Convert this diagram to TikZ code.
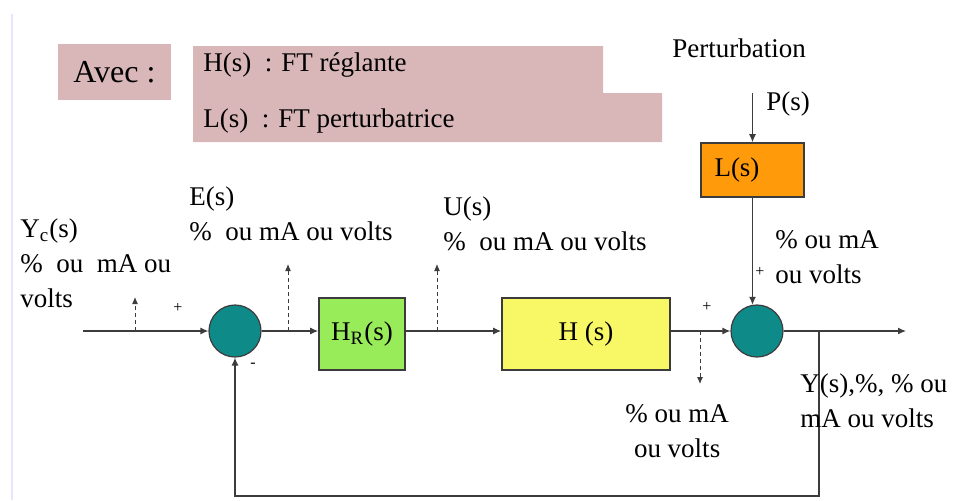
\documentclass[tikz,border=0pt]{standalone}
\usepackage{fontspec}
\setmainfont{Liberation Serif}
\usetikzlibrary{arrows.meta,positioning}
\definecolor{ink}{HTML}{3C3C3C}
\definecolor{rose}{HTML}{D9B6B8}
\definecolor{sumfill}{HTML}{0E8A89}
\definecolor{regfill}{HTML}{98EC5A}
\definecolor{procfill}{HTML}{F8F866}
\definecolor{pertfill}{HTML}{FF9A0A}

\begin{document}
\begin{tikzpicture}[x=0.5pt,y=-0.5pt,>=Latex,
  every node/.style={font=\fontsize{13.5}{17.5}\selectfont},
  blk/.style={draw=ink,line width=0.8pt,minimum height=36pt,inner sep=0pt},
  sum/.style={circle,draw=ink,line width=0.6pt,fill=sumfill,minimum size=26pt,inner sep=0pt},
  lbl/.style={align=left,inner sep=0pt,anchor=base west},
  sig/.style={->,ink,line width=0.6pt,>={Latex[length=4pt,width=3.5pt]}},
  probe/.style={->,ink,line width=0.5pt,dash pattern=on 2pt off 1.5pt,>={Latex[length=3.5pt,width=3pt]}},
  sgn/.style={font=\fontsize{8}{8}\selectfont,inner sep=0pt}]
  \useasboundingbox (0,0) rectangle (955,500);
  \draw[blue!10,line width=0.8pt] (12,14) -- (12,500);

  % legend
  \node[fill=rose,minimum width=56.5pt,minimum height=28pt,inner sep=0pt,
    font=\fontsize{16}{18}\selectfont] (avec) at (114.5,72) {Avec :};
  \fill[rose] (193,46) -- (603,46) -- (603,93) -- (662,93) -- (662,142) -- (193,142) -- cycle;
  \node[lbl] (hdef) at (203,71) {H(s)\ \ : FT réglante};
  \node[lbl] (ldef) at (203,127) {L(s)\ \ : FT perturbatrice};

  % blocks
  \node[sum] (sum1) at (235,331) {};
  \node[blk,fill=regfill,minimum width=43pt] (HR) at (362,334) {H\textsubscript{R}(s)};
  \node[blk,fill=procfill,minimum width=84pt] (H) at (586,334) {H (s)};
  \node[sum] (sum2) at (757,331) {};
  \node[blk,fill=pertfill,minimum width=51.5pt,minimum height=27pt] (L) at (752.5,170)
    {\makebox[38pt][l]{L(s)}};

  \coordinate (yin) at (83,331);
  \coordinate (pin) at (752.5,93);
  \coordinate (fb) at (819,331);
  \coordinate (yout) at (906,331);

  \draw[sig] (yin) -- (sum1.west);
  \draw[sig] (sum1.east) -- (sum1.east -| HR.west);
  \draw[sig] (HR.east |- sum1) -- (H.west |- sum1);
  \draw[sig] (H.east |- sum2) -- (sum2.west);
  \draw[sig] (sum2.east) -- (yout);
  \draw[sig] (pin) -- (L.north);
  \draw[sig] (L.south) -- (L.south |- sum2.100);
  \draw[sig] (fb) -- ++(0,165) -| (sum1.south);

  % measurement taps
  \coordinate (tapY) at (135,331);
  \coordinate (tapE) at (288,331);
  \coordinate (tapU) at (437,331);
  \coordinate (tapP) at (700,331);
  \draw[probe] (tapY) -- ++(0,-34);
  \draw[probe] (tapE) -- ++(0,-67);
  \draw[probe] (tapU) -- ++(0,-67);
  \draw[probe] (tapP) -- ++(0,53);

  % signs
  \node[sgn] (s1) at (178,308) {+};
  \node[sgn] (s2) at (253,365) {-};
  \node[sgn] (s3) at (707,307) {+};
  \node[sgn] (s4) at (760,272) {+};

  % signal labels
  \node[lbl] (yc) at (20,307) {Y\textsubscript{c}(s)\\\%\ \ ou\ \ mA ou\\volts};
  \node[lbl] (es) at (189,240) {E(s)\\\%\ \ ou mA ou volts};
  \node[lbl] (us) at (443,250) {U(s)\\\%\ \ ou mA ou volts};
  \node[lbl] (pl) at (775,283) {\% ou mA\\ou volts};
  \node[lbl,align=center] (dl) at (625,457) {\% ou mA\\ou volts};
  \node[lbl] (ys) at (800,427) {Y(s),\%, \% ou\\mA ou volts};
  \node[lbl] (pert) at (672,57) {Perturbation};
  \node[lbl] (ps) at (766,110) {P(s)};
\end{tikzpicture}
\end{document}
